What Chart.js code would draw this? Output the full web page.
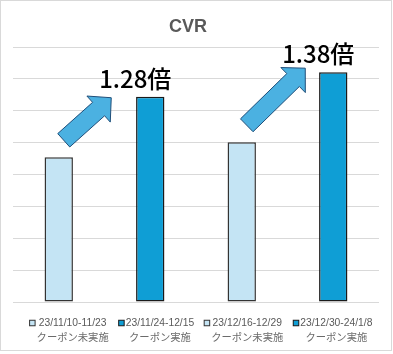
<!DOCTYPE html>
<html>
<head>
<meta charset="utf-8">
<script src="https://cdn.jsdelivr.net/npm/chart.js@4.4.1/dist/chart.umd.min.js"></script>
<style>
  html, body { margin: 0; padding: 0; background: #fff; }
  #wrap { position: relative; width: 393px; height: 354px; }
  #frame {
    position: absolute; left: 0; top: 0; width: 392px; height: 351px;
    border: 1px solid #d9d9d9; box-sizing: border-box; pointer-events: none;
  }
</style>
</head>
<body>
<div id="wrap">
  <canvas id="cvrChart"></canvas>
  <div id="frame"></div>
</div>
<script>
// data
const periods = ['23/11/10-11/23', '23/11/24-12/15', '23/12/16-12/29', '23/12/30-24/1/8'];
const couponStatus = ['クーポン未実施', 'クーポン実施', 'クーポン未実施', 'クーポン実施'];
const cvrValues = [4.54, 6.44, 5.01, 7.21];
const ratioLabels = ['1.28倍', '1.38倍'];
const yMax = 8;

// styles
const lightBlue = '#C4E4F4';
const darkBlue = '#0F9ED5';
const barFills = [lightBlue, darkBlue, lightBlue, darkBlue];
const barBorders = ['#333333', '#1a1a1a', '#333333', '#1a1a1a'];
const arrowFill = '#4BB1E1';
const arrowLine = '#1F4E79';
const textGray = '#595959';
// where each arrow tip sits, relative to the bar it points to
const tipOffsets = [[-39, 1], [-28, -4]];

function drawArrow(ctx, t, p) {
    const shaftW = 18, headW = 35, headL = 17;
    const dx = p.x - t.x, dy = p.y - t.y;
    const len = Math.hypot(dx, dy);
    const ux = dx / len, uy = dy / len;
    const nx = -uy, ny = ux;
    const bx = p.x - ux * headL, by = p.y - uy * headL;
    ctx.beginPath();
    ctx.moveTo(t.x + nx * shaftW / 2, t.y + ny * shaftW / 2);
    ctx.lineTo(bx + nx * shaftW / 2, by + ny * shaftW / 2);
    ctx.lineTo(bx + nx * headW / 2, by + ny * headW / 2);
    ctx.lineTo(p.x, p.y);
    ctx.lineTo(bx - nx * headW / 2, by - ny * headW / 2);
    ctx.lineTo(bx - nx * shaftW / 2, by - ny * shaftW / 2);
    ctx.lineTo(t.x - nx * shaftW / 2, t.y - ny * shaftW / 2);
    ctx.closePath();
    ctx.fillStyle = arrowFill;
    ctx.fill();
    ctx.lineWidth = 1;
    ctx.strokeStyle = arrowLine;
    ctx.stroke();
}

const extras = {
    id: 'extras',
    afterDatasetsDraw(chart) {
        const ctx = chart.ctx;
        const area = chart.chartArea;
        const bars = chart.getDatasetMeta(0).data;
        ctx.save();

        // title
        ctx.font = 'bold 18px "Liberation Sans", Arial, sans-serif';
        ctx.fillStyle = textGray;
        ctx.textAlign = 'center';
        ctx.textBaseline = 'middle';
        ctx.fillText('CVR', (area.left + area.right) / 2 - 8, 27);

        // arrows + ratio labels
        for (let k = 0; k < ratioLabels.length; k++) {
            const from = bars[2 * k], to = bars[2 * k + 1];
            const tail = { x: from.x + 5, y: from.y - 17 };
            const tip = { x: to.x + tipOffsets[k][0], y: to.y + tipOffsets[k][1] };
            drawArrow(ctx, tail, tip);
            ctx.font = '500 24px "Noto Sans CJK JP", sans-serif';
            ctx.fillStyle = '#000';
            ctx.textAlign = 'center';
            ctx.textBaseline = 'middle';
            ctx.fillText(ratioLabels[k], to.x - 15, to.y - 18);
        }

        // legend
        const f1 = '10.3px "Liberation Sans", Arial, sans-serif';
        const f2 = '10.3px "Noto Sans CJK JP", sans-serif';
        const box = 5.5, boxGap = 1.5, itemGap = 10;
        const widths = periods.map((p, i) => {
            ctx.font = f1; const w1 = ctx.measureText(p).width;
            ctx.font = f2; const w2 = ctx.measureText(couponStatus[i]).width;
            return Math.max(w1, w2);
        });
        const total = widths.reduce((a, w) => a + box + boxGap + w, 0) + itemGap * (periods.length - 1);
        let x = (area.left + area.right) / 2 + 5 - total / 2;
        const y1 = 323, y2 = 337;
        periods.forEach((p, i) => {
            ctx.fillStyle = barFills[i];
            ctx.fillRect(x, y1 - box / 2, box, box);
            ctx.lineWidth = 1;
            ctx.strokeStyle = barBorders[i];
            ctx.strokeRect(x, y1 - box / 2, box, box);
            const cx = x + box + boxGap + widths[i] / 2;
            ctx.textAlign = 'center';
            ctx.textBaseline = 'middle';
            ctx.font = f1;
            ctx.fillStyle = textGray;
            ctx.fillText(p, cx, y1);
            ctx.font = f2;
            ctx.fillStyle = '#6b6b6b';
            ctx.fillText(couponStatus[i], cx, y2);
            x += box + boxGap + widths[i] + itemGap;
        });
        ctx.restore();
    }
};

const cvrChart = new Chart(document.getElementById('cvrChart'), {
    type: 'bar',
    data: {
        labels: periods,
        datasets: [{
            label: 'CVR',
            data: cvrValues,
            backgroundColor: barFills,
            borderColor: barBorders,
            borderWidth: 1.5,
            borderSkipped: false,
            categoryPercentage: 1,
            barPercentage: 0.31
        }]
    },
    options: {
        responsive: true,
        maintainAspectRatio: false,
        animation: false,
        layout: { padding: { left: 13, right: 14, top: 47, bottom: 52 } },
        plugins: {
            legend: { display: false },
            title: { display: false },
            tooltip: { enabled: false }
        },
        scales: {
            x: { display: false },
            y: {
                min: 0,
                max: yMax,
                ticks: { display: false, stepSize: 1 },
                grid: { color: '#d9d9d9', drawTicks: false },
                border: { display: false }
            }
        }
    },
    plugins: [extras]
});
</script>
</body>
</html>
